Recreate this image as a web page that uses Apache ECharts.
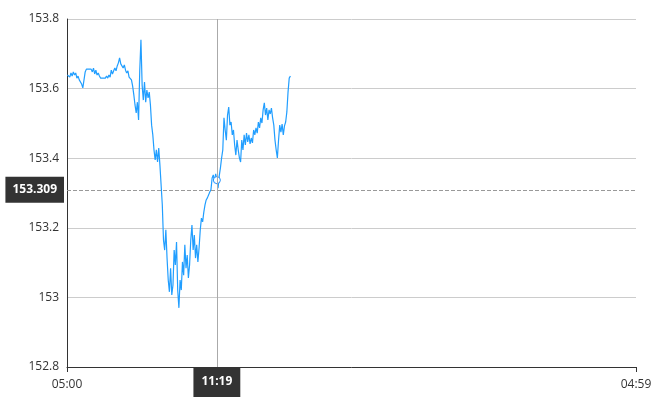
<!DOCTYPE html>
<html>
<head>
<meta charset="utf-8">
<script src="https://cdn.jsdelivr.net/npm/echarts@6/dist/echarts.min.js"></script>
<style>
html,body{margin:0;padding:0;background:#fff;}
#chart{width:670px;height:400px;}
</style>
</head>
<body>
<div id="chart"></div>
<script>
// Time axis: one category per minute from 05:00 to 04:59 next day
const startHour = 5;
const minutesPerDay = 1440;
const edgeLabels = ['05:00', '04:59'];
// Samples: every 3 minutes starting at 05:01
const sampleStart = 1;
const sampleStep = 3;
const prices = [
  153.639,153.642,153.633,153.645,153.636,153.648,153.639,153.645,153.630,153.636,
  153.625,153.630,153.613,153.602,153.625,153.648,153.656,153.659,153.656,153.659,
  153.656,153.648,153.659,153.642,153.653,153.639,153.645,153.636,153.630,153.630,
  153.630,153.630,153.630,153.636,153.630,153.639,153.633,153.653,153.642,153.651,
  153.659,153.651,153.665,153.674,153.688,153.671,153.676,153.659,153.668,153.653,
  153.645,153.651,153.633,153.636,153.625,153.607,153.582,153.553,153.530,153.561,
  153.510,153.653,153.740,153.610,153.567,153.619,153.561,153.596,153.573,153.590,
  153.553,153.495,153.467,153.424,153.395,153.424,153.389,153.429,153.380,153.323,
  153.266,153.165,153.136,153.194,153.113,153.050,153.016,153.084,153.007,153.036,
  153.136,153.093,153.159,153.021,152.970,153.050,153.021,153.102,153.064,153.151,
  153.084,153.122,153.056,153.093,153.165,153.208,153.136,153.179,153.113,153.151,
  153.102,153.142,153.194,153.228,153.217,153.245,153.266,153.280,153.286,153.294,
  153.303,153.309,153.343,153.352,153.332,153.355,153.337,153.314,153.349,153.372,
  153.401,153.424,153.516,153.481,153.452,153.524,153.547,153.495,153.504,153.467,
  153.481,153.438,153.409,153.452,153.424,153.401,153.389,153.452,153.424,153.467,
  153.438,153.472,153.447,153.467,153.441,153.458,153.444,153.481,153.467,153.487,
  153.472,153.504,153.487,153.516,153.501,153.539,153.559,153.524,153.544,153.510,
  153.539,153.527,153.544,153.516,153.495,153.452,153.424,153.401,153.452,153.495,
  153.475,153.498,153.467,153.493,153.504,153.533,153.590,153.630,153.636
];
// Crosshair pointer position
const pointerTime = '11:19';
const pointerPrice = 153.309;
const yMin = 152.8, yMax = 153.8, yInterval = 0.2;

function pad(n){ return (n < 10 ? '0' : '') + n; }
const categories = [];
for (let m = 0; m < minutesPerDay; m++) {
  const t = (startHour * 60 + m) % minutesPerDay;
  categories.push(pad(Math.floor(t / 60)) + ':' + pad(t % 60));
}
const seriesData = prices.map((v, i) => [categories[sampleStart + sampleStep * i], v]);
const lastIdx = minutesPerDay - 1;
const edgeFn = (idx) => idx === 0 || idx === lastIdx;

const chart = echarts.init(document.getElementById('chart'), null, {renderer: 'canvas'});
const font = "'Open Sans', 'Noto Sans', sans-serif";
chart.setOption({
  animation: false,
  textStyle: {fontFamily: font},
  grid: {left: 67, right: 34, top: 19, bottom: 33, containLabel: false},
  tooltip: {
    trigger: 'axis',
    showContent: false,
    axisPointer: {type: 'cross'}
  },
  xAxis: {
    type: 'category',
    boundaryGap: false,
    data: categories,
    axisLine: {lineStyle: {color: '#333', width: 1}},
    axisTick: {show: true, interval: edgeFn, length: 5, lineStyle: {color: '#333'}},
    axisLabel: {interval: edgeFn, color: '#333', fontSize: 12, margin: 12, fontFamily: font},
    splitLine: {show: false},
    axisPointer: {
      lineStyle: {color: '#aaa', width: 1, type: 'solid'},
      label: {
        show: true, backgroundColor: '#333', color: '#fff', fontSize: 12, fontWeight: 'bold',
        fontFamily: font, padding: [9, 8], margin: 0, borderRadius: 0
      }
    }
  },
  yAxis: {
    type: 'value',
    min: yMin, max: yMax, interval: yInterval,
    axisLine: {show: true, lineStyle: {color: '#333', width: 1}},
    axisTick: {show: false},
    axisLabel: {color: '#333', fontSize: 12, margin: 8, fontFamily: font},
    splitLine: {lineStyle: {color: '#ccc', width: 1}},
    axisPointer: {
      lineStyle: {color: '#999', width: 1, type: 'dashed'},
      label: {
        show: true, backgroundColor: '#333', color: '#fff', fontSize: 12, fontWeight: 'bold',
        fontFamily: font, padding: [7, 7], margin: 3, borderRadius: 0,
        formatter: (p) => Number(p.value).toFixed(3)
      }
    }
  },
  series: [{
    type: 'line',
    data: seriesData,
    showSymbol: false,
    symbol: 'emptyCircle',
    symbolSize: 7,
    lineStyle: {color: '#1E90FF', width: 1.2},
    itemStyle: {color: '#1E90FF', borderWidth: 1},
    emphasis: {scale: false, lineStyle: {width: 1.2}, itemStyle: {borderWidth: 1}}
  }]
});
const px = chart.convertToPixel({xAxisIndex: 0, yAxisIndex: 0}, [pointerTime, pointerPrice]);
chart.dispatchAction({type: 'showTip', x: px[0], y: px[1]});
</script>
</body>
</html>
